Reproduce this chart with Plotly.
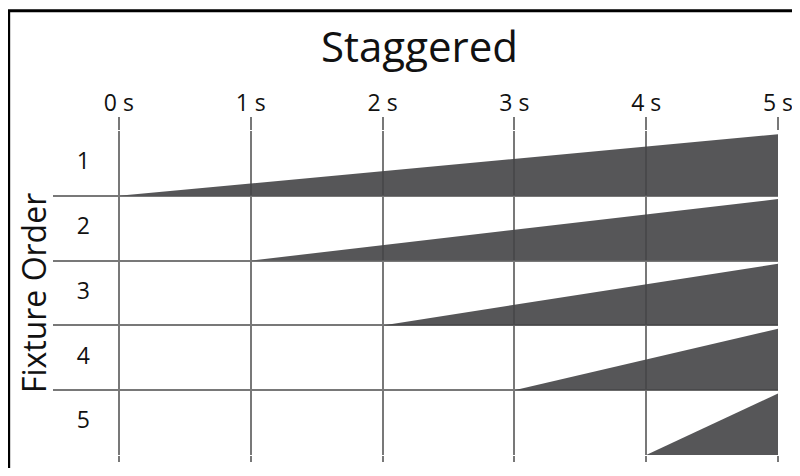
import plotly.graph_objects as go

# ── data ────────────────────────────────────────────────────────────────
TIMES = [0, 1, 2, 3, 4, 5]
TIME_LABELS = ["0 s", "1 s", "2 s", "3 s", "4 s", "5 s"]
FIXTURES = [1, 2, 3, 4, 5]
FIXTURE_LABELS = ["1", "2", "3", "4", "5"]
START_TIMES = [0, 1, 2, 3, 4]
END_TIMES = [5, 5, 5, 5, 5]
END_LEVEL = [1.0, 1.0, 1.0, 1.0, 1.0]   # fade reaches full level at the end

# ── style ───────────────────────────────────────────────────────────────
FONT = "Open Sans, Noto Sans, sans-serif"
GRID = "#787878"
FILL = "rgba(68,68,70,0.9)"
ROW_FILL = 0.95   # share of a row's height used at full level

# figure sized to fit inside the page's 8px body margin (no scrollbars)
W, H = 792, 460
L, T, R, B = 45, 123, 19, 7
PW, PH = W - L - R, H - T - B

fig = go.Figure()

for row, t0, t1, lvl in zip(FIXTURES, START_TIMES, END_TIMES, END_LEVEL):
    base = row + 0.5
    fig.add_trace(go.Scatter(
        x=[t0, t1, t1, t0],
        y=[base, base - lvl * ROW_FILL, base, base],
        mode="lines", fill="toself", fillcolor=FILL,
        line=dict(width=0), hoverinfo="skip", showlegend=False,
    ))

# row labels sit inside the plot, left of 0 s
fig.add_trace(go.Scatter(
    x=[-0.27] * len(FIXTURES), y=FIXTURES, text=FIXTURE_LABELS,
    mode="text", textfont=dict(family=FONT, size=23, color="#111"),
    hoverinfo="skip", showlegend=False,
))

# helper trace so the bottom tick axis gets drawn
fig.add_trace(go.Scatter(x=TIMES, y=[None] * len(TIMES), xaxis="x2",
                         mode="markers", hoverinfo="skip", showlegend=False))

fig.update_layout(
    width=W, height=H,
    margin=dict(l=L, r=R, t=T, b=B),
    paper_bgcolor="white", plot_bgcolor="white",
    font=dict(family=FONT, color="#111"),
    title=dict(text="Staggered", x=0.5 + 4 / PW, xref="paper", xanchor="center",
               y=1 - 39 / H, yref="container", yanchor="middle",
               font=dict(size=42, color="#111")),
    xaxis=dict(
        range=[-0.5, 5], side="top", tickvals=TIMES, ticktext=TIME_LABELS,
        tickfont=dict(size=23, color="#111"), ticks="outside", ticklen=13,
        tickwidth=2, tickcolor=GRID, ticklabelstandoff=-3,
        showgrid=True, gridcolor=GRID,
        gridwidth=2, zeroline=False, showline=False, fixedrange=True,
    ),
    xaxis2=dict(
        range=[-0.5, 5], overlaying="x", side="bottom", anchor="y",
        tickvals=TIMES, showticklabels=False, ticks="outside", ticklen=6,
        tickwidth=2, tickcolor=GRID, showgrid=False, zeroline=False,
        showline=False,
    ),
    yaxis=dict(
        range=[5.5, 0.5], showticklabels=False, showgrid=False,
        zeroline=False, showline=False, fixedrange=True,
        minor=dict(tickvals=[f - 0.5 for f in FIXTURES] + [FIXTURES[-1] + 0.5],
                   showgrid=True, gridcolor=GRID, gridwidth=2),
    ),
    annotations=[dict(
        text="Fixture Order", textangle=-90, showarrow=False,
        xref="paper", yref="paper", x=-20 / PW, y=0.5,
        xanchor="center", yanchor="middle",
        font=dict(size=32, color="#111"),
    )],
    shapes=[dict(
        type="rect", xref="paper", yref="paper",
        x0=(0.5 - L) / PW, x1=1.2, y0=-0.2, y1=(PH + T - 0.5) / PH,
        line=dict(color="black", width=3), fillcolor="rgba(0,0,0,0)",
    )],
)

fig.write_html("out.html")
